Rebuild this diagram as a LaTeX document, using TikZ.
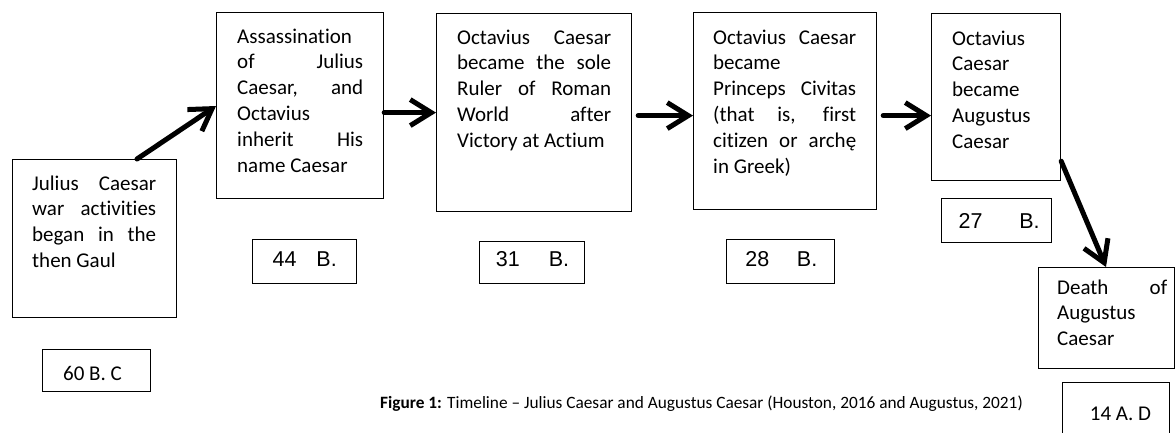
\documentclass[tikz,border=0pt]{standalone}
\usepackage{fontspec}
\setmainfont{Carlito}[Ligatures=NoCommon]
\newfontfamily\arialf{Liberation Sans}
\usetikzlibrary{arrows.meta,calc}
\newcommand\jl[1]{\makebox[\linewidth][s]{#1}\par}
\tikzset{
  box/.style={draw=black, line width=1.2pt, inner sep=0pt, anchor=north west},
  txt/.style={inner sep=0pt, anchor=base west, font=\fontsize{21}{25.8}\selectfont},
  datea/.style={inner sep=0pt, anchor=center, font=\arialf\fontsize{21.5}{25}\selectfont},
  datec/.style={inner sep=0pt, anchor=center, font=\fontsize{21}{25}\selectfont},
  arr/.style={line width=5pt, line cap=round, -{Straight Barb[length=21pt,width=26pt]}},
  capt/.style={inner sep=0pt, anchor=base west, font=\fontsize{17.3}{20}\selectfont}
}
\begin{document}
\begin{tikzpicture}[x=1pt,y=-1pt]
\useasboundingbox (0,0) rectangle (1175,432);
\clip (0,0) rectangle (1175,432);
% event boxes
\node[box, minimum width=164pt, minimum height=158pt] (b1) at (12,159) {};
\node[box, minimum width=167pt, minimum height=186pt] (b2) at (216,12) {};
\node[box, minimum width=195pt, minimum height=198pt] (b3) at (436,13) {};
\node[box, minimum width=183pt, minimum height=197pt] (b4) at (693,12) {};
\node[box, minimum width=129pt, minimum height=167pt] (b5) at (931,13) {};
\node[box, minimum width=136pt, minimum height=101pt] (b6) at (1038,267) {};
% date boxes
\node[box, minimum width=108pt, minimum height=42pt] (d1) at (42,349) {};
\node[box, minimum width=104pt, minimum height=44pt] (d2) at (252,239) {};
\node[box, minimum width=105pt, minimum height=42pt] (d3) at (479,241) {};
\node[box, minimum width=108pt, minimum height=44pt] (d4) at (726,239) {};
\node[box, minimum width=110pt, minimum height=44pt] (d5) at (941,198) {};
\node[box, minimum width=107pt, minimum height=60pt] (d6) at (1062,382) {};
% event texts
\node[txt] (t1) at (32,190) {\parbox[t]{124pt}{\jl{Julius Caesar}\jl{war activities}\jl{began in the}then Gaul}};
\node[txt] (t2) at (237,43) {\parbox[t]{126pt}{Assassination\par\jl{of Julius}\jl{Caesar, and}Octavius\par\jl{inherit His}name Caesar}};
\node[txt] (t3) at (457,44) {\parbox[t]{154pt}{\jl{Octavius Caesar}\jl{became the sole}\jl{Ruler of Roman}\jl{World after}Victory at Actium}};
\node[txt] (t4) at (713,44) {\parbox[t]{143pt}{\jl{Octavius Caesar}became\par\jl{Princeps Civitas}\jl{(that is, first}\jl{citizen or archę}in Greek)}};
\node[txt] (t5) at (952,45) {\parbox[t]{100pt}{Octavius\par Caesar\par became\par Augustus\par Caesar}};
\node[txt] (t6) at (1057,294) {\parbox[t]{110pt}{\jl{Death of}Augustus\par Caesar}};
% date texts
\node[datec] (dt1) at (92.5,373) {60 B. C};
\node[datea] (dt2) at (304.7,259) {44\hspace{20pt}B.};
\node[datea] (dt3) at (532.5,259) {31\hspace{29pt}B.};
\node[datea] (dt4) at (781.3,259) {28\hspace{27.7pt}B.};
\node[datea] (dt5) at (999.2,221) {27\hspace{36.7pt}B.};
\node[datec] (dt6) at (1120.5,414) {14 A. D};
% connectors
\draw[arr] ([xshift=125pt]b1.north west) -- ([yshift=-94pt]b2.north west);
\draw[arr] (b2.east |- b3.west) -- (b3.west);
\draw[arr] ($(b3.east)+(6,3)$) -- ($(b4.west)+(0,4.5)$);
\draw[arr] ($(b4.east)+(6,4.5)$) -- ($(b5.west)+(0,18.5)$);
\draw[arr] ($(b5.south east)+(0,-20)$) -- ($(b6.north west)+(68,0)$);
% caption
\node[capt] (cap) at (380,408) {\textbf{Figure 1:} Timeline – Julius Caesar and Augustus Caesar (Houston, 2016 and Augustus, 2021)};
\end{tikzpicture}
\end{document}
